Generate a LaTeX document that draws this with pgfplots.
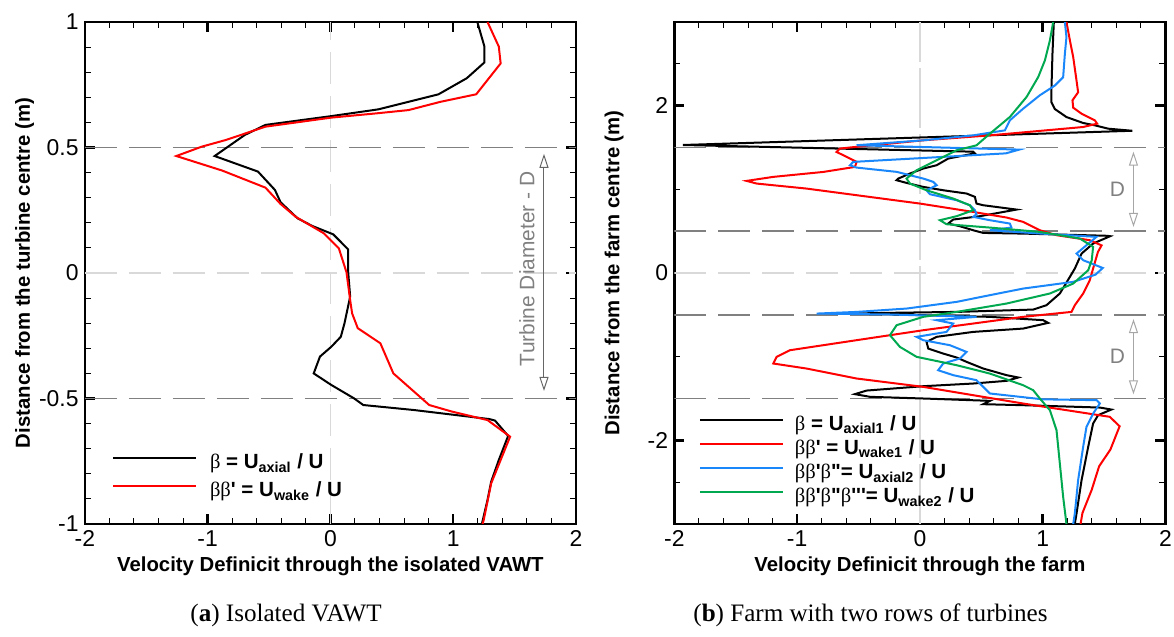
\documentclass[border=0pt]{standalone}
\usepackage{fontspec}
\setmainfont{Liberation Sans}
\newfontfamily\serif{Liberation Serif}
\usepackage{pgfplots}
\pgfplotsset{compat=1.18}
\usetikzlibrary{arrows.meta}
\definecolor{myblue}{RGB}{25,135,250}
\definecolor{mygreen}{RGB}{0,168,80}
\definecolor{myred}{RGB}{255,0,0}
\newcommand{\bt}{{\serif β}}
\newcommand{\p}{\textquotesingle}
\newcommand{\pp}{\textquotedbl}
\tikzset{
  darkdash/.style={black!50, line width=0.7bp, dash pattern=on 16bp off 6bp},
  lightdash/.style={black!15, line width=0.7bp, dash pattern=on 16bp off 6bp},
  oarrow/.style={line width=0.5bp, {Triangle[open,length=7bp,width=4.5bp]}-{Triangle[open,length=7bp,width=4.5bp]}}
}
\pgfplotsset{
  myax/.style={
    scale only axis, width=245.5bp, height=251bp,
    anchor=south west,
    axis line style={line width=1.3bp},
    xmin=-2, xmax=2, xtick={-2,-1,0,1,2}, xticklabels={-2,-1,0,1,2},
    minor x tick num=4,
    tick align=inside, xtick pos=both, ytick pos=both,
    xticklabel pos=lower, yticklabel pos=left,
    major tick length=5bp, minor tick length=3bp,
    major tick style={line width=1.2bp, black},
    minor tick style={line width=0.5bp, black},
    tick label style={font=\fontsize{11.5}{13}\selectfont},
    xticklabel style={anchor=north, inner sep=0pt, yshift=-3bp},
    yticklabel style={anchor=east, inner sep=0pt, xshift=-3bp},
    label style={font=\bfseries\fontsize{10.2}{12}\selectfont},
    xlabel style={at={(axis description cs:0.5,-0.0956)}, anchor=base},
    ylabel style={at={(axis description cs:-0.112,0.5)}, anchor=base},
    every axis plot/.append style={line width=1bp},
    legend cell align=left,
    legend image code/.code={\draw[##1] (0bp,2.8bp) -- (41.5bp,2.8bp);},
  }
}
\begin{document}
\begin{tikzpicture}
\path[use as bounding box] (0,0) rectangle (587bp,318.5bp);
% ---------------- left ----------------
\begin{axis}[myax, at={(42.45bp,56.5bp)},
  ymin=-1, ymax=1, ytick={-1,-0.5,0,0.5,1}, yticklabels={-1,-0.5,0,0.5,1},
  minor y tick num=4,
  xlabel={Velocity Definicit through the isolated VAWT},
  ylabel={Distance from the turbine centre (m)},
  legend style={draw=none, fill=none, inner sep=0pt, outer sep=0pt, row sep=4bp, column sep=6.5bp,
    font=\fontsize{10.3}{12}\selectfont, nodes={inner sep=0pt, text height=7.5bp, text depth=2.5bp},
    anchor=north west, at={(axis cs:-1.779,-0.721)}},
]
\draw[lightdash] (axis cs:-2,0) -- (axis cs:2,0);
\draw[lightdash] (axis cs:0,-1) -- (axis cs:0,1);
\draw[darkdash] (axis cs:-2,0.5) -- (axis cs:2,0.5);
\draw[darkdash] (axis cs:-2,-0.5) -- (axis cs:2,-0.5);
\draw[oarrow, black!60] (axis cs:1.74,0.475) -- (axis cs:1.74,-0.47);
\node[rotate=90, text=black!50, font=\fontsize{10.5}{12}\selectfont] at (axis cs:1.60,0.017) {Turbine Diameter - D};
\addplot[black] coordinates {
(1.197,1.0) (1.255,0.902) (1.255,0.839) (1.111,0.776) (0.881,0.712) (0.391,0.652)
(0.007,0.625) (-0.529,0.590) (-0.697,0.550) (-0.943,0.466) (-0.590,0.404) (-0.452,0.331)
(-0.406,0.282) (-0.268,0.218) (-0.146,0.187) (0.023,0.154) (0.145,0.094) (0.145,0.003)
(0.161,-0.094) (0.115,-0.200) (0.085,-0.254) (0.007,-0.294) (-0.085,-0.333) (-0.136,-0.400)
(0.007,-0.446) (0.191,-0.499) (0.268,-0.526) (0.682,-0.546) (1.295,-0.582) (1.341,-0.588)
(1.448,-0.649) (1.372,-0.745) (1.310,-0.831) (1.280,-0.904) (1.234,-1.0)
};
\addlegendentry{\bt{} \textbf{= U\textsubscript{axial} / U}}
\addplot[myred] coordinates {
(1.280,1.0) (1.372,0.902) (1.387,0.835) (1.188,0.712) (0.897,0.682) (0.636,0.649)
(0.375,0.636) (0.007,0.619) (-0.529,0.583) (-0.851,0.530) (-1.050,0.503) (-1.255,0.466)
(-0.881,0.408) (-0.529,0.340) (-0.406,0.275) (-0.283,0.224) (-0.053,0.158) (0.069,0.098)
(0.131,0.003) (0.161,-0.108) (0.177,-0.161) (0.223,-0.220) (0.407,-0.280) (0.513,-0.400)
(0.805,-0.526) (0.989,-0.552) (1.280,-0.586) (1.464,-0.652) (1.387,-0.745) (1.310,-0.838)
(1.249,-0.984) (1.240,-1.0)
};
\addlegendentry{\bt\bt\textbf{\p{} = U\textsubscript{wake} / U}}
\end{axis}
% ---------------- right ----------------
\begin{axis}[myax, at={(337.2bp,56.5bp)},
  ymin=-3, ymax=3, ytick={-2,0,2}, yticklabels={-2,0,2},
  minor ytick={-2.5,-1.5,-1,-0.5,0.5,1,1.5,2.5},
  xlabel={Velocity Definicit through the farm},
  ylabel={Distance from the farm centre (m)},
  legend style={draw=none, fill=none, inner sep=0pt, outer sep=0pt, row sep=2.1bp, column sep=5.5bp,
    font=\fontsize{10.3}{12}\selectfont, nodes={inner sep=0pt, text height=7.5bp, text depth=2.5bp},
    anchor=north west, at={(axis cs:-1.80,-1.699)}},
]
\draw[lightdash] (axis cs:-2,0) -- (axis cs:2,0);
\draw[black!15, line width=0.7bp, dash pattern=on 30bp off 3bp] (axis cs:0,-3) -- (axis cs:0,3);
\draw[darkdash] (axis cs:-2,0.5) -- (axis cs:2,0.5);
\draw[darkdash] (axis cs:-2,-0.5) -- (axis cs:2,-0.5);
\draw[darkdash] (axis cs:-2,1.5) -- (axis cs:2,1.5);
\draw[darkdash] (axis cs:-2,-1.5) -- (axis cs:2,-1.5);
\draw[oarrow, black!35] (axis cs:1.74,1.45) -- (axis cs:1.74,0.55);
\draw[oarrow, black!35] (axis cs:1.74,-0.55) -- (axis cs:1.74,-1.45);
\node[text=black!50, font=\fontsize{10.5}{12}\selectfont] at (axis cs:1.61,1.0) {D};
\node[text=black!50, font=\fontsize{10.5}{12}\selectfont] at (axis cs:1.61,-1.0) {D};
\addplot[black] coordinates {
(1.091,3.0) (1.080,2.62) (1.072,2.22) (1.072,2.04) (1.099,1.96) (1.194,1.864) (1.330,1.793)
(1.425,1.765) (1.534,1.725) (1.73,1.70) (-1.93,1.53) (0.434,1.45) (0.448,1.43) (0.231,1.368)
(0.136,1.288) (0.027,1.248) (-0.081,1.189) (-0.176,1.129) (-0.190,1.109) (-0.109,1.077)
(0.027,1.029) (0.190,0.989) (0.380,0.950) (0.448,0.910) (0.461,0.830) (0.516,0.810)
(0.787,0.758) (0.489,0.679) (0.271,0.639) (0.231,0.591) (0.326,0.559) (0.434,0.511)
(0.516,0.479) (0.841,0.471) (1.520,0.445) (1.55,0.44) (1.411,0.352) (1.317,0.232)
(1.262,0.053) (1.222,-0.046) (1.140,-0.245) (1.031,-0.385) (0.923,-0.437) (0.299,-0.465)
(-0.244,-0.476) (-0.570,-0.485) (0.027,-0.504) (0.570,-0.524) (1.004,-0.564) (1.045,-0.596)
(0.841,-0.664) (0.434,-0.704) (0.136,-0.763) (0.054,-0.823) (0.068,-0.903) (0.190,-0.963)
(0.299,-1.010) (0.380,-1.062) (0.516,-1.142) (0.706,-1.221) (0.801,-1.249) (0.706,-1.289)
(0.434,-1.321) (0.027,-1.353) (-0.434,-1.405) (-0.529,-1.448) (-0.407,-1.48) (0.027,-1.50)
(0.570,-1.528) (0.516,-1.568) (0.841,-1.58) (1.466,-1.608) (1.56,-1.632) (1.452,-1.699)
(1.411,-1.799) (1.371,-2.078) (1.317,-2.476) (1.276,-2.875) (1.262,-3.0)
};
\addlegendentry{\bt{} \textbf{= U\textsubscript{axial1} / U}}
\addplot[myred] coordinates {
(1.194,3.0) (1.222,2.78) (1.249,2.58) (1.276,2.30) (1.289,2.16) (1.243,2.064) (1.249,1.976)
(1.317,1.904) (1.425,1.825) (1.444,1.785) (1.330,1.745) (0.570,1.645) (0.027,1.586)
(-0.570,1.50) (-0.652,1.487) (-0.679,1.447) (-0.597,1.388) (-0.516,1.328) (-0.529,1.268)
(-0.787,1.208) (-1.194,1.149) (-1.412,1.101) (-1.330,1.069) (-0.923,1.009) (-0.516,0.930)
(0.0,0.830) (0.434,0.730) (0.706,0.663) (0.841,0.611) (0.977,0.511) (1.113,0.452)
(1.384,0.392) (1.48,0.33) (1.45,0.25) (1.411,0.053) (1.384,-0.086) (1.330,-0.245)
(1.262,-0.385) (1.235,-0.465) (0.841,-0.524) (0.434,-0.604) (0.027,-0.684) (-0.516,-0.803)
(-1.059,-0.923) (-1.167,-1.002) (-1.194,-1.082) (-0.923,-1.142) (-0.516,-1.261) (0.027,-1.361)
(0.841,-1.560) (1.547,-1.719) (1.627,-1.832) (1.552,-2.11) (1.46,-2.31) (1.40,-2.59)
(1.324,-2.87) (1.309,-3.0)
};
\addlegendentry{\bt\bt\textbf{\p{} = U\textsubscript{wake1} / U}}
\addplot[myblue] coordinates {
(1.181,3.0) (1.194,2.82) (1.181,2.62) (1.167,2.34) (1.099,2.24) (0.977,2.124) (0.841,1.964)
(0.733,1.825) (0.692,1.705) (0.434,1.645) (0.027,1.586) (-0.516,1.527) (0.81,1.475)
(0.70,1.43) (-0.543,1.328) (-0.57,1.288) (-0.516,1.26) (-0.190,1.209) (0.027,1.129)
(0.109,1.089) (0.136,1.049) (0.054,0.989) (0.081,0.942) (0.299,0.870) (0.407,0.810)
(0.448,0.750) (0.461,0.703) (0.434,0.671) (0.570,0.631) (0.733,0.591) (0.746,0.543)
(0.570,0.511) (1.0,0.47) (1.439,0.432) (1.357,0.332) (1.276,0.232) (1.330,0.153)
(1.49,0.06) (1.43,-0.02) (1.249,-0.106) (0.841,-0.186) (0.570,-0.265) (0.299,-0.345)
(-0.109,-0.425) (-0.516,-0.465) (-0.841,-0.485) (-0.244,-0.496) (0.461,-0.524) (0.136,-0.564)
(0.271,-0.604) (0.217,-0.704) (-0.027,-0.763) (0.027,-0.803) (0.244,-0.863) (0.380,-0.943)
(0.326,-1.022) (0.190,-1.082) (0.149,-1.162) (0.271,-1.221) (0.461,-1.281) (0.516,-1.361)
(0.570,-1.44) (1.0,-1.51) (1.44,-1.52) (1.466,-1.56) (1.411,-1.68) (1.357,-1.839)
(1.330,-2.078) (1.289,-2.476) (1.262,-2.875) (1.249,-3.0)
};
\addlegendentry{\bt\bt\textbf{\p}\bt\textbf{\pp= U\textsubscript{axial2} / U}}
\addplot[mygreen] coordinates {
(1.086,3.0) (1.059,2.78) (1.018,2.54) (0.964,2.343) (0.869,2.104) (0.733,1.865) (0.570,1.665)
(0.461,1.526) (0.299,1.467) (0.109,1.328) (-0.027,1.228) (-0.109,1.129) (-0.081,1.069)
(0.054,0.989) (0.271,0.890) (0.407,0.810) (0.434,0.750) (0.299,0.679) (0.163,0.631)
(0.217,0.583) (0.570,0.543) (0.977,0.491) (1.303,0.412) (1.411,0.312) (1.40,0.153)
(1.371,0.033) (1.249,-0.126) (1.059,-0.245) (0.706,-0.365) (0.299,-0.465) (0.027,-0.524)
(-0.190,-0.624) (-0.244,-0.743) (-0.163,-0.883) (-0.027,-1.002) (0.299,-1.102) (0.570,-1.202)
(0.841,-1.341) (0.923,-1.401) (0.977,-1.50) (1.059,-1.64) (1.113,-1.879) (1.140,-2.277)
(1.167,-2.675) (1.194,-3.0)
};
\addlegendentry{\bt\bt\textbf{\p}\bt\textbf{\pp}\bt\textbf{\p\p\p= U\textsubscript{wake2} / U}}
\end{axis}
\node[anchor=base west, font=\serif\fontsize{12.6}{14}\selectfont, inner sep=0pt] at (95bp,7.6bp) {(\textbf{a}) Isolated VAWT};
\node[anchor=base west, font=\serif\fontsize{12.6}{14}\selectfont, inner sep=0pt] at (346.5bp,7.6bp) {(\textbf{b}) Farm with two rows of turbines};
\end{tikzpicture}
\end{document}
